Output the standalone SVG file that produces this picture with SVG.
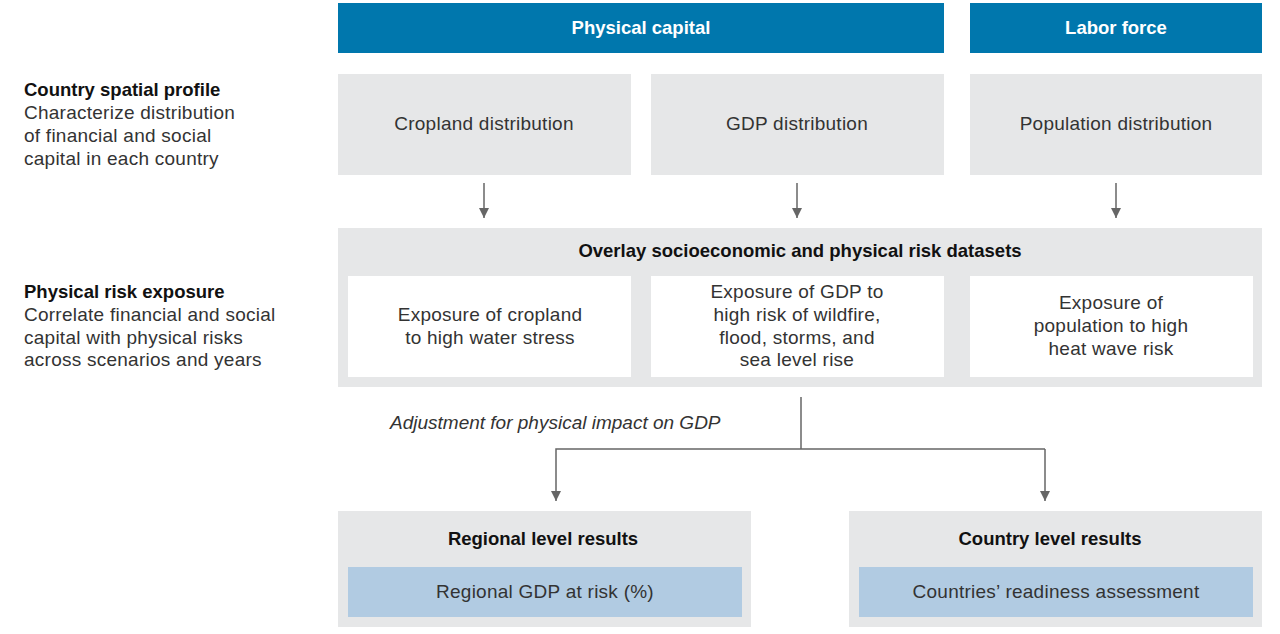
<svg xmlns="http://www.w3.org/2000/svg" width="1280" height="634" viewBox="0 0 1280 634">
<defs>
<style>
.hdr{fill:#0077ad}
.grey{fill:#e6e7e8}
.white{fill:#ffffff}
.lblue{fill:#b1cbe2}
text{font-family:"Liberation Sans",Arial,sans-serif;font-size:19px;letter-spacing:0.25px;fill:#333333}
.b{font-weight:bold;fill:#111111;font-size:18.5px;letter-spacing:0}
.w{font-weight:bold;fill:#ffffff;font-size:18.5px;letter-spacing:0}
.c{text-anchor:middle}
.i{font-style:italic;letter-spacing:0}
.conn{stroke:#666666;stroke-width:1.5;fill:none}
</style>
<marker id="ah" viewBox="0 0 10 10" refX="10" refY="5" markerWidth="10" markerHeight="10" markerUnits="userSpaceOnUse" orient="auto">
<path d="M0,0 L10,5 L0,10 Z" fill="#666666"/>
</marker>
</defs>
<rect width="1280" height="634" fill="#ffffff"/>

<g id="left-labels">
<text x="24" y="96" class="b">Country spatial profile</text>
<text x="24" y="119">Characterize distribution</text>
<text x="24" y="142">of financial and social</text>
<text x="24" y="165">capital in each country</text>
<text x="24" y="298" class="b">Physical risk exposure</text>
<text x="24" y="321">Correlate financial and social</text>
<text x="24" y="344">capital with physical risks</text>
<text x="24" y="366">across scenarios and years</text>
</g>

<g id="physical-capital">
<rect class="hdr" x="338" y="3" width="606" height="50"/>
<text x="641" y="34" class="w c">Physical capital</text>
</g>
<g id="labor-force">
<rect class="hdr" x="970" y="3" width="292" height="50"/>
<text x="1116" y="34" class="w c">Labor force</text>
</g>

<g id="cropland">
<rect class="grey" x="338" y="74" width="293" height="101"/>
<text x="484" y="130" class="c">Cropland distribution</text>
</g>
<g id="gdp">
<rect class="grey" x="651" y="74" width="293" height="101"/>
<text x="797" y="130" class="c">GDP distribution</text>
</g>
<g id="population">
<rect class="grey" x="970" y="74" width="292" height="101"/>
<text x="1116" y="130" class="c">Population distribution</text>
</g>

<g id="overlay">
<rect class="grey" x="338" y="228" width="924" height="159"/>
<text x="800" y="257" class="b c">Overlay socioeconomic and physical risk datasets</text>
</g>
<g id="exp-cropland">
<rect class="white" x="348" y="276" width="283" height="101"/>
<text x="490" y="321" class="c">Exposure of cropland</text>
<text x="490" y="344" class="c">to high water stress</text>
</g>
<g id="exp-gdp">
<rect class="white" x="651" y="276" width="293" height="101"/>
<text x="797" y="298" class="c">Exposure of GDP to</text>
<text x="797" y="321" class="c">high risk of wildfire,</text>
<text x="797" y="344" class="c">flood, storms, and</text>
<text x="797" y="366" class="c">sea level rise</text>
</g>
<g id="exp-population">
<rect class="white" x="970" y="276" width="283" height="101"/>
<text x="1111" y="309" class="c">Exposure of</text>
<text x="1111" y="332" class="c">population to high</text>
<text x="1111" y="355" class="c">heat wave risk</text>
</g>

<g id="regional">
<rect class="grey" x="338" y="511" width="413" height="116"/>
<text x="543" y="545" class="b c">Regional level results</text>
<rect class="lblue" x="348" y="567" width="394" height="50"/>
<text x="545" y="598" class="c">Regional GDP at risk (%)</text>
</g>
<g id="country">
<rect class="grey" x="849" y="511" width="413" height="116"/>
<text x="1050" y="545" class="b c">Country level results</text>
<rect class="lblue" x="859" y="567" width="394" height="50"/>
<text x="1056" y="598" class="c">Countries’ readiness assessment</text>
</g>

<g id="connectors">
<path class="conn" d="M484,183 V218" marker-end="url(#ah)"/>
<path class="conn" d="M797,183 V218" marker-end="url(#ah)"/>
<path class="conn" d="M1116,183 V218" marker-end="url(#ah)"/>
<path class="conn" d="M801,397 V449"/>
<path class="conn" d="M1045,449 H556 V501" marker-end="url(#ah)"/>
<path class="conn" d="M1045,449 V501" marker-end="url(#ah)"/>
<text x="390" y="429" class="i">Adjustment for physical impact on GDP</text>
</g>
</svg>
